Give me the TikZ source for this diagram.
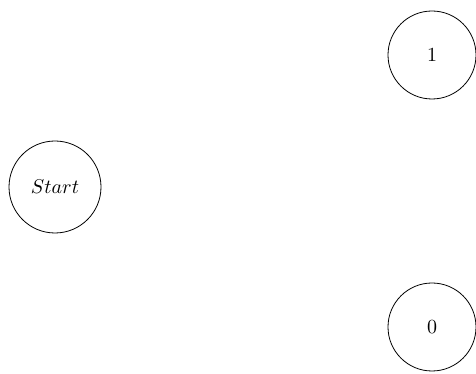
\documentclass[tikz,border=0pt]{standalone}
\begin{document}
\begin{tikzpicture}[x=1pt,y=1pt,
  state/.style={draw,circle,line width=0.4pt,inner sep=0pt}]
\useasboundingbox (0,0) rectangle (238,187);
\node[state,minimum size=46pt] (start) at (27.5,93.5) {$Start$};
\node[state,minimum size=44pt] (one) at (216,159.5) {$1$};
\node[state,minimum size=44pt] (zero) at (216,23.5) {$0$};
\end{tikzpicture}
\end{document}
